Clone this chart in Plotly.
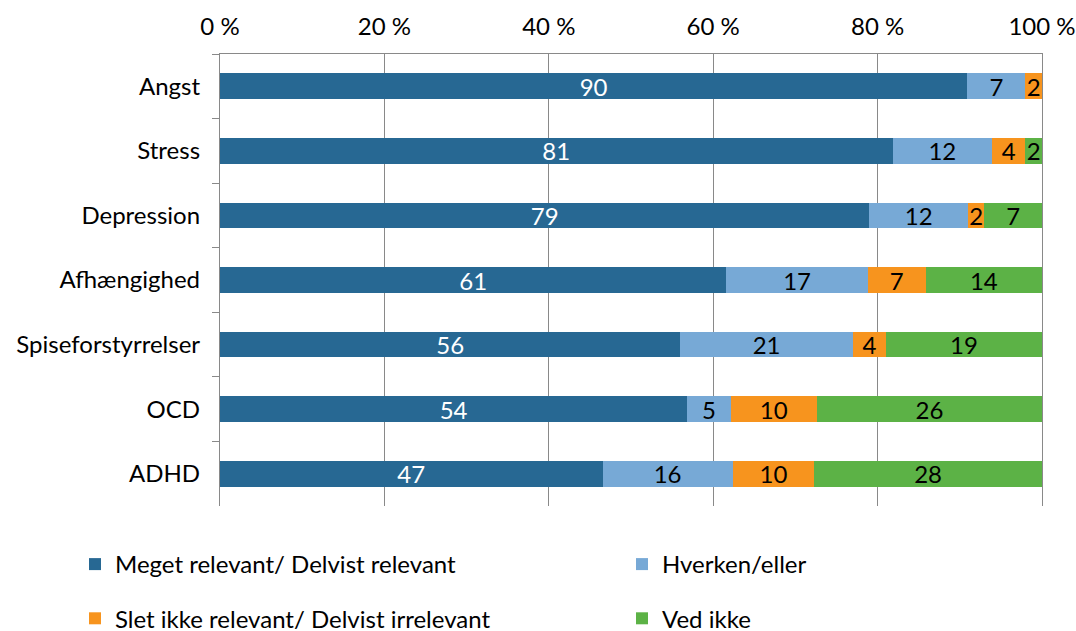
import plotly.graph_objects as go

categories = ["Angst", "Stress", "Depression", "Afhængighed", "Spiseforstyrrelser", "OCD", "ADHD"]
series_names = ["Meget relevant/ Delvist relevant", "Hverken/eller",
                "Slet ikke relevant/ Delvist irrelevant", "Ved ikke"]
meget = [90, 81, 79, 61, 56, 54, 47]
hverken = [7, 12, 12, 17, 21, 5, 16]
slet = [2, 4, 2, 7, 4, 10, 10]
ved_ikke = [0, 2, 7, 14, 19, 26, 28]
x_ticks = [0, 20, 40, 60, 80, 100]
x_tick_labels = ["0 %", "20 %", "40 %", "60 %", "80 %", "100 %"]

colors = ["#276893", "#77A9D6", "#F7941E", "#5CB246"]
text_colors = ["white", "black", "black", "black"]
legends = ["legend", "legend2", "legend", "legend2"]
values = [meget, hverken, slet, ved_ikke]

FONT = "Lato, Carlito, Calibri, sans-serif"
FS = 24
W, H = 1076, 631

fig = go.Figure()
for i, (name, vals) in enumerate(zip(series_names, values)):
    fig.add_trace(go.Bar(
        y=categories, x=vals, name=name, orientation="h",
        marker=dict(color=colors[i], line=dict(width=0)),
        text=[str(v) if v > 0 else "" for v in vals],
        textposition="inside", insidetextanchor="middle", textangle=0,
        cliponaxis=False,
        textfont=dict(color=text_colors[i], size=FS, family=FONT),
        width=0.4, legend=legends[i], legendgroup=f"g{i}",
        hoverinfo="skip",
    ))

fig.update_layout(
    barmode="stack", barnorm="percent",
    width=W, height=H,
    margin=dict(l=220, r=34, t=54, b=125, autoexpand=False),
    paper_bgcolor="white", plot_bgcolor="white",
    font=dict(family=FONT, size=FS, color="black"),
    uniformtext=dict(minsize=FS, mode="show"),
    xaxis=dict(
        side="top", range=[0, 100.001], tickvals=x_ticks, ticktext=x_tick_labels,
        showgrid=True, gridcolor="#898989", gridwidth=1.3,
        showline=True, linecolor="#898989", linewidth=1.3,
        ticks="", zeroline=False, fixedrange=True, automargin=False,
        ticklabelstandoff=8, ticklabeloverflow="allow",
        tickfont=dict(size=FS, color="black"),
    ),
    yaxis=dict(
        categoryorder="array", categoryarray=categories, autorange="reversed",
        showline=True, mirror=True, linecolor="#898989", linewidth=1.3,
        ticks="outside", ticklen=7, tickcolor="#898989", tickwidth=1.3,
        tickson="boundaries", showgrid=False, automargin=False,
        ticklabelstandoff=14,
        tickfont=dict(size=FS, color="black"),
    ),
    legend=dict(
        orientation="v", xref="container", yref="container",
        x=75 / W, y=1 - 542 / H, xanchor="left", yanchor="top",
        tracegroupgap=20, font=dict(size=FS, color="black"),
        itemwidth=30, bgcolor="rgba(0,0,0,0)",
    ),
    legend2=dict(
        orientation="v", xref="container", yref="container",
        x=622 / W, y=1 - 542 / H, xanchor="left", yanchor="top",
        tracegroupgap=20, font=dict(size=FS, color="black"),
        itemwidth=30, bgcolor="rgba(0,0,0,0)",
    ),
)

fig.write_html("out.html", config={"displayModeBar": False},
               post_script="document.body.style.margin='0';")
